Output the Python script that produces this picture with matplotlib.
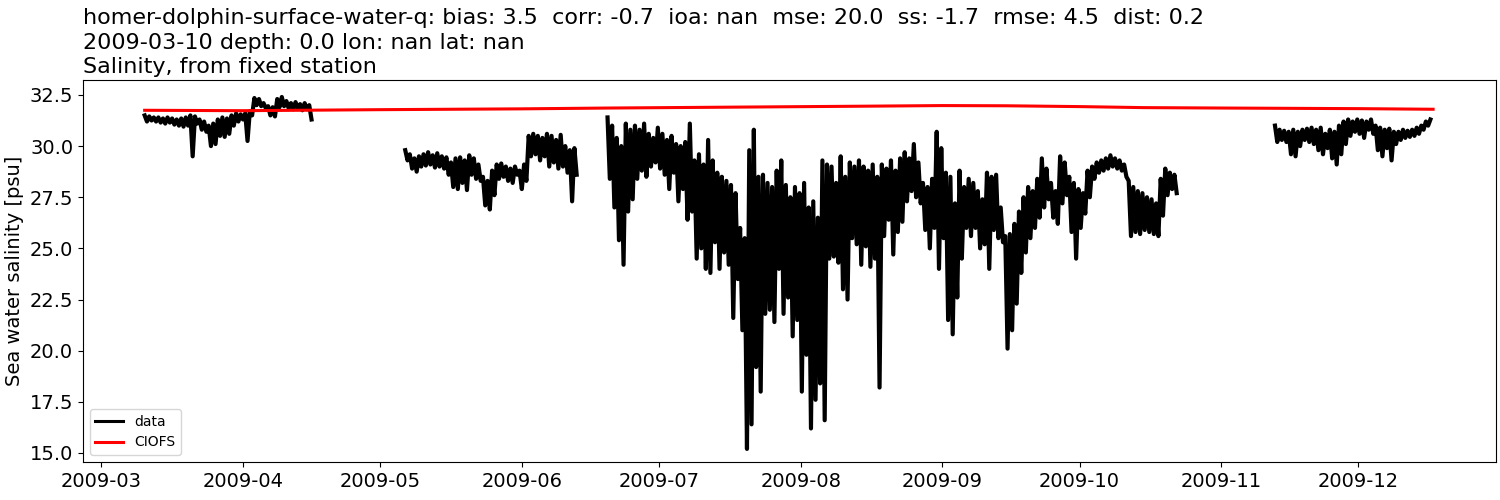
import numpy as np
import pandas as pd
import matplotlib
matplotlib.use("Agg")
import matplotlib.pyplot as plt

# Observed salinity, read off the chart as daily high / low tide values
# segment 1: 2009-03-10 .. 2009-04-15
seg1_start = "2009-03-10 12:00"
seg1_hi = [31.5, 31.45, 31.4, 31.4, 31.35, 31.4, 31.35, 31.3, 31.35, 31.4,
           31.5, 31.45, 31.3, 31.2, 31.0, 31.1, 31.3, 31.4, 31.35, 31.5,
           31.6, 31.55, 31.6, 31.7, 32.35, 32.3, 32.1, 31.95, 31.9, 32.3,
           32.4, 32.2, 32.1, 32.15, 32.05, 32.1, 32.0]
seg1_lo = [31.2, 31.25, 31.2, 31.15, 31.1, 31.15, 31.05, 31.0, 30.95, 31.0,
           29.5, 31.1, 30.8, 30.7, 30.0, 30.1, 30.5, 30.45, 30.6, 31.0,
           31.2, 31.3, 30.25, 31.5, 32.0, 31.95, 31.85, 31.5, 31.45, 31.9,
           31.95, 31.85, 31.8, 31.85, 31.75, 31.8, 31.3]

# segment 2: 2009-05-06 .. 2009-06-13
seg2_start = "2009-05-06 12:00"
seg2_hi = [29.8, 29.6, 29.4, 29.5, 29.6, 29.7, 29.55, 29.65, 29.5, 29.45,
           29.2, 29.4, 29.45, 29.3, 29.55, 29.4, 29.1, 28.5, 28.3, 28.8,
           29.1, 29.15, 29.0, 28.9, 29.0, 28.8, 29.1, 30.5, 30.6, 30.5,
           30.4, 30.6, 30.5, 30.3, 30.55, 30.0, 29.8, 29.9]
seg2_lo = [29.3, 28.9, 28.75, 29.0, 29.05, 29.1, 28.95, 29.0, 28.9, 28.6,
           28.0, 27.9, 28.2, 27.85, 28.6, 28.4, 28.3, 27.1, 26.9, 27.6,
           28.4, 28.5, 28.3, 28.2, 28.6, 27.9, 28.3, 29.5, 29.6, 29.3,
           29.5, 29.0, 29.2, 28.9, 29.0, 28.7, 27.3, 28.6]

# segment 3: 2009-06-19 .. 2009-10-22
seg3_start = "2009-06-19 18:00"
seg3_hi = [31.4, 31.0, 30.4, 30.0, 31.1, 30.8, 31.0, 30.8, 31.1, 30.6,
           30.4, 30.9, 30.6, 30.3, 30.5, 30.1, 30.0, 30.2, 31.1, 29.3,
           29.6, 29.1, 30.3, 29.3, 28.7, 28.5, 28.3, 28.1, 27.7, 26.0,
           25.5, 29.8, 30.8, 28.5, 28.6, 28.2, 28.0, 28.8, 29.3, 28.1,
           27.5, 28.0, 27.7, 28.2, 27.0, 27.3, 26.5, 29.3, 29.1, 29.0,
           28.2, 29.5, 28.5, 29.2, 29.0, 29.3, 29.0, 28.8, 29.1, 28.5,
           29.1, 28.9, 29.3, 28.8, 29.4, 29.7, 29.4, 30.1, 29.2, 28.2,
           28.0, 28.4, 30.7, 29.9, 28.7, 28.5, 27.2, 28.8, 28.0, 28.4,
           28.2, 27.8, 27.4, 28.7, 28.5, 28.6, 27.0, 25.6, 25.7, 26.2,
           26.8, 27.5, 28.0, 27.8, 28.4, 29.4, 28.9, 28.2, 27.8, 29.5,
           29.2, 28.5, 28.2, 27.9, 27.7, 28.8, 29.0, 29.2, 29.3, 29.4,
           29.55, 29.4, 29.3, 29.1, 28.3, 28.0, 27.8, 27.7, 27.5, 27.4,
           27.2, 28.4, 28.9, 28.7, 28.6]
seg3_lo = [28.4, 27.0, 25.4, 24.2, 26.8, 27.4, 28.4, 28.8, 28.5, 29.0,
           29.2, 28.9, 28.6, 27.9, 28.7, 27.3, 27.9, 26.4, 26.8, 24.5,
           25.0, 24.0, 23.8, 25.3, 24.0, 24.8, 24.2, 21.6, 23.5, 21.0,
           15.2, 16.4, 19.2, 18.0, 21.8, 22.0, 21.4, 24.0, 21.8, 22.6,
           20.7, 21.5, 18.0, 19.8, 16.2, 17.6, 18.4, 16.6, 24.5, 24.6,
           24.3, 23.0, 22.5, 25.5, 25.2, 24.2, 25.1, 24.1, 24.5, 18.2,
           25.6, 26.4, 24.7, 25.8, 26.3, 27.3, 27.8, 27.5, 27.2, 25.9,
           25.0, 26.0, 24.0, 25.5, 21.5, 20.8, 22.6, 24.5, 26.0, 25.6,
           26.0, 25.0, 25.2, 24.0, 25.9, 25.5, 25.3, 20.1, 21.0, 22.3,
           23.8, 24.8, 25.5, 26.0, 26.5, 27.0, 27.4, 26.5, 26.2, 27.2,
           27.6, 25.8, 24.5, 26.0, 26.7, 27.5, 28.4, 28.7, 28.8, 28.9,
           29.0, 28.9, 28.8, 28.5, 25.6, 25.8, 25.7, 25.9, 25.8, 25.7,
           25.6, 26.6, 27.6, 27.9, 27.7]

# segment 4: 2009-11-12 .. 2009-12-17
seg4_start = "2009-11-12 18:00"
seg4_hi = [31.0, 30.8, 30.75, 30.7, 30.8, 30.7, 30.8, 30.85, 30.9, 30.8,
           30.9, 30.6, 30.8, 30.7, 31.0, 31.2, 31.3, 31.2, 31.3, 31.25,
           31.2, 31.3, 31.0, 30.9, 30.8, 30.85, 30.7, 30.7, 30.8, 30.75,
           30.8, 30.9, 31.0, 31.2, 31.3]
seg4_lo = [30.2, 30.3, 30.2, 29.6, 29.5, 30.0, 30.3, 30.2, 30.1, 29.8,
           29.6, 29.9, 29.4, 29.1, 29.6, 30.1, 30.5, 30.7, 30.6, 30.4,
           30.8, 30.6, 29.8, 29.5, 29.9, 29.3, 30.1, 30.3, 30.4, 30.45,
           30.5, 30.6, 30.8, 31.0]

# CIOFS model salinity
model_dates = ["2009-03-10 12:00", "2009-04-01 00:00", "2009-05-01 00:00", "2009-06-01 00:00",
               "2009-06-20 00:00", "2009-07-15 00:00", "2009-08-15 00:00", "2009-09-01 00:00",
               "2009-09-15 00:00", "2009-10-01 00:00", "2009-10-15 00:00", "2009-11-01 00:00",
               "2009-12-01 00:00", "2009-12-17 08:00"]
model_vals = [31.75, 31.73, 31.78, 31.82, 31.86, 31.9, 31.95, 31.98, 31.97, 31.93,
              31.88, 31.86, 31.83, 31.8]

title = ("homer-dolphin-surface-water-q: bias: 3.5  corr: -0.7  ioa: nan  mse: 20.0  "
         "ss: -1.7  rmse: 4.5  dist: 0.2\n2009-03-10 depth: 0.0 lon: nan lat: nan\n"
         "Salinity, from fixed station")


def build_segment(start, hi, lo):
    # high water at the start of each day, low water half a day later
    n = max(len(hi), len(lo))
    days = pd.date_range(start, periods=n, freq="D")
    times, vals = [], []
    for i in range(n):
        if i < len(hi):
            times.append(days[i])
            vals.append(hi[i])
        if i < len(lo):
            times.append(days[i] + pd.Timedelta(hours=12))
            vals.append(lo[i])
    return times, vals


segments = [(seg1_start, seg1_hi, seg1_lo), (seg2_start, seg2_hi, seg2_lo),
            (seg3_start, seg3_hi, seg3_lo), (seg4_start, seg4_hi, seg4_lo)]

obs_t, obs_v = [], []
for start, hi, lo in segments:
    t, v = build_segment(start, hi, lo)
    if obs_t:
        # break the line between deployments
        obs_t.append(t[0] - pd.Timedelta(hours=1))
        obs_v.append(np.nan)
    obs_t += t
    obs_v += v

fig = plt.figure(figsize=(15, 5), dpi=100)
ax = fig.add_axes([0.0553, 0.076, 0.942, 0.764])

ax.plot(obs_t, obs_v, color="k", lw=3.0, label="data")
ax.plot(pd.to_datetime(model_dates, format="%Y-%m-%d %H:%M"), model_vals,
        color="r", lw=2.2, label="CIOFS")

ax.set_xlim(pd.Timestamp("2009-02-25 00:00"), pd.Timestamp("2009-12-31 02:00"))
ax.set_ylim(14.56, 33.23)
ax.set_yticks(np.arange(15.0, 32.6, 2.5))
ax.set_ylabel("Sea water salinity [psu]", fontsize=14)
ax.tick_params(labelsize=14)
ax.set_title(title, loc="left", fontsize=16, pad=5, linespacing=1.28)
leg = ax.legend(loc="lower left")
for line in leg.get_lines():
    line.set_linewidth(2.2)

fig.savefig("out.png")
